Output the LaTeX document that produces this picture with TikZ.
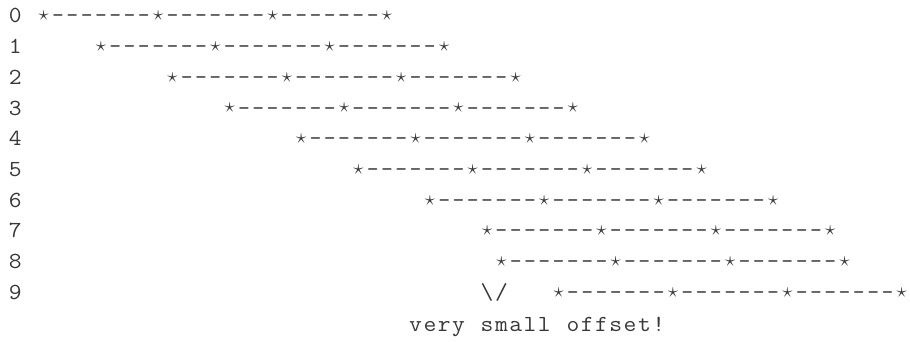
\documentclass[tikz,border=0pt]{standalone}
\usepackage{fontspec}
\newlength\cw \setlength\cw{14.3pt}
\makeatletter
\def\mono#1{\mono@i#1\relax}
\def\mono@i#1{\ifx#1\relax\else\mono@c#1\expandafter\mono@i\fi}
\def\mono@c#1{\makebox[\cw][c]{\ifx*#1\raisebox{2.2pt}{\fontsize{30}{30}\selectfont$\scriptstyle\star$}\else\ifx-#1-\else\scalebox{1.08}[1]{#1}\fi\fi}}
\makeatother
\begin{document}
\begin{tikzpicture}[x=1pt,y=-1pt,
  txt/.style={anchor=base west, inner sep=0pt, font=\fontsize{23}{27}\selectfont\ttfamily, text=black!78}]
\useasboundingbox (0,0) rectangle (910,342);
\foreach \r/\s in {0/2,1/6,2/11,3/15,4/20,5/24,6/29,7/33,8/34,9/38} {
  \node[txt] (num\r) at (7.85, {23+30.7*\r}) {\mono{\r}};
  \node[txt] (row\r) at ({7.85+14.3*\s}, {23+30.7*\r}) {\mono{*-------*-------*-------*}};
}
\node[txt] (arrow) at ({7.85+14.3*33}, {23+30.7*9}) {\mono{\textbackslash/}};
\node[txt] (note) at ({7.85+14.3*28}, 331) {\mono{very~small~offset!}};
\end{tikzpicture}
\end{document}
